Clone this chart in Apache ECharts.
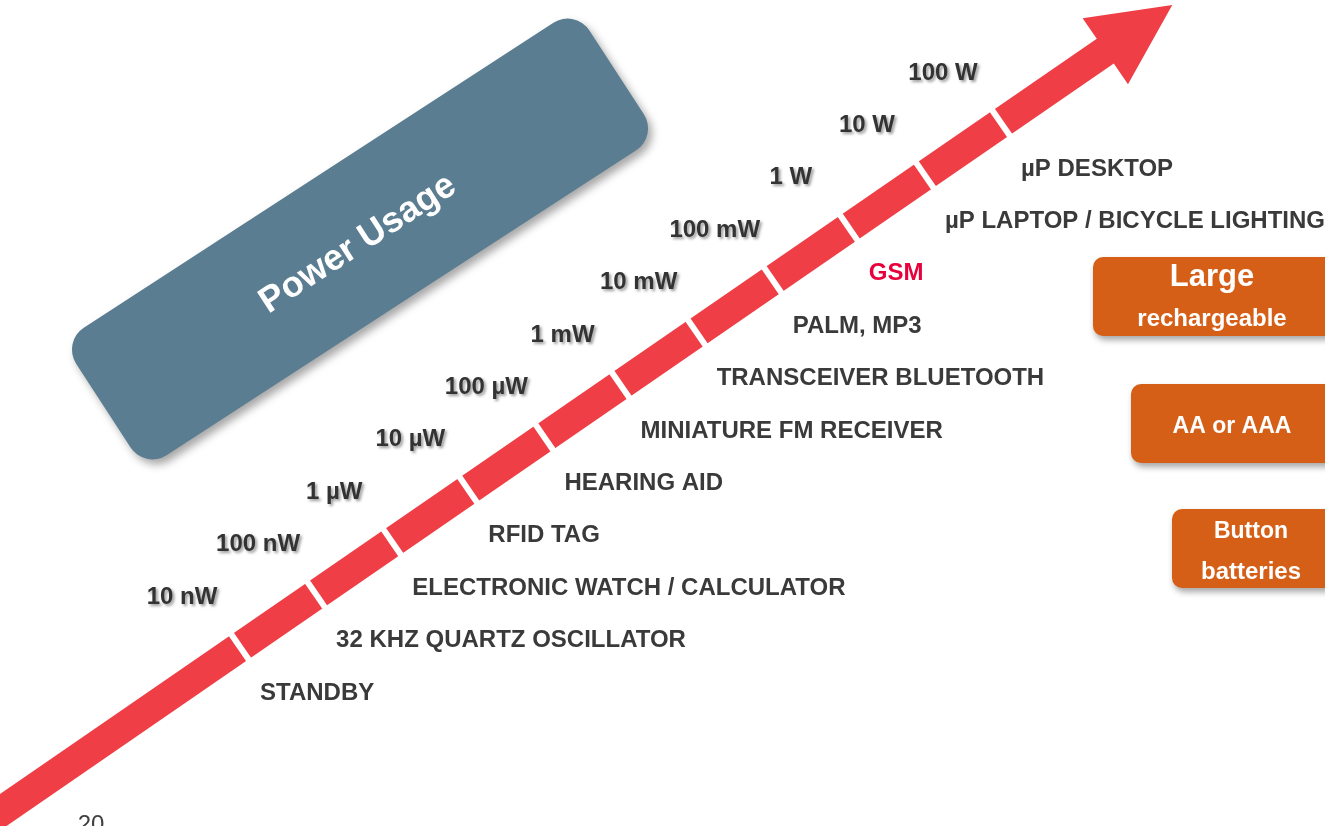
<!DOCTYPE html>
<html>
<head>
<meta charset="utf-8">
<title>Power Usage</title>
<script src="https://cdn.jsdelivr.net/npm/echarts@6/dist/echarts.min.js"></script>
<style>
  html, body { margin: 0; padding: 0; background: #fff; }
  #chart { width: 1325px; height: 826px; }
</style>
</head>
<body>
<div id="chart"></div>
<script>
// decades of power, as log10(W)
const powerExp = [-8, -7, -6, -5, -4, -3, -2, -1, 0, 1, 2];
const powerLabels = ['10 nW', '100 nW', '1 µW', '10 µW', '100 µW', '1 mW', '10 mW', '100 mW', '1 W', '10 W', '100 W'];
// one device per decade
const devices = ['STANDBY', '32 KHZ QUARTZ OSCILLATOR', 'ELECTRONIC WATCH / CALCULATOR', 'RFID TAG', 'HEARING AID',
  'MINIATURE FM RECEIVER', 'TRANSCEIVER BLUETOOTH', 'PALM, MP3', 'GSM', 'µP LAPTOP / BICYCLE LIGHTING', 'µP DESKTOP'];
const highlighted = ['GSM'];
const batteries = [['Large', 'rechargeable'], ['AA or AAA'], ['Button', 'batteries']];
// arrow from below 10 nW up past 100 W
const arrowStart = -11.6, arrowHeadBase = 3.37, arrowTip = 4.25;

const W = 1325, H = 826;
const xMin = -11.154, xMax = 6.257;
const yMin = -11.416, yMax = 4.347;
const pxX = W / (xMax - xMin), pxY = H / (yMax - yMin);
const angle = Math.atan2(pxY, pxX) * 180 / Math.PI;

const chart = echarts.init(document.getElementById('chart'));

const font = '"Liberation Sans", Arial, sans-serif';

const option = {
    animation: false,
    grid: { left: 0, right: 0, top: 0, bottom: 0, containLabel: false },
    xAxis: { type: 'value', min: xMin, max: xMax, show: false },
    yAxis: { type: 'value', min: yMin, max: yMax, show: false },
    series: [
        {
            // the big red arrow
            type: 'custom',
            z: 1,
            silent: true,
            data: [[arrowStart, arrowHeadBase, arrowTip]],
            renderItem: function (params, api) {
                const s = api.value(0), hb = api.value(1), tp = api.value(2);
                const a = api.coord([s, s]), b = api.coord([hb, hb]), t = api.coord([tp, tp]);
                const dx = t[0] - a[0], dy = t[1] - a[1];
                const len = Math.sqrt(dx * dx + dy * dy);
                const nx = -dy / len, ny = dx / len;
                const sw = 15, hw = 40;
                return {
                    type: 'polygon',
                    shape: {
                        points: [
                            [a[0] + nx * sw, a[1] + ny * sw],
                            [b[0] + nx * sw, b[1] + ny * sw],
                            [b[0] + nx * hw, b[1] + ny * hw],
                            t,
                            [b[0] - nx * hw, b[1] - ny * hw],
                            [b[0] - nx * sw, b[1] - ny * sw],
                            [a[0] - nx * sw, a[1] - ny * sw]
                        ]
                    },
                    style: { fill: '#ef3e45' }
                };
            }
        },
        {
            // white cuts on the arrow, one per decade
            type: 'scatter',
            z: 2,
            symbol: 'rect',
            symbolSize: [6, 42],
            symbolRotate: angle,
            itemStyle: { color: '#ffffff', opacity: 1 },
            data: powerExp.map(v => [v, v]),
            silent: true
        },
        {
            // power labels above the arrow
            type: 'scatter',
            z: 3,
            symbolSize: 1,
            silent: true,
            itemStyle: { color: 'transparent', opacity: 1 },
            data: powerExp.map((v, i) => ({ value: [v, v], name: powerLabels[i] })),
            label: {
                show: true,
                position: 'inside',
                formatter: '{b}',
                offset: [-58, -50],
                align: 'center',
                verticalAlign: 'middle',
                color: '#333333',
                fontFamily: font,
                fontWeight: 'bold',
                fontSize: 24,
                textShadowColor: 'rgba(0,0,0,0.4)',
                textShadowBlur: 3,
                textShadowOffsetX: 2,
                textShadowOffsetY: 2
            }
        },
        {
            // devices below the arrow
            type: 'scatter',
            z: 3,
            symbolSize: 1,
            silent: true,
            itemStyle: { color: 'transparent', opacity: 1 },
            data: powerExp.map((v, i) => ({
                value: [v, v],
                name: devices[i],
                label: { color: highlighted.indexOf(devices[i]) >= 0 ? '#e8003d' : '#3a3a3a' }
            })),
            label: {
                show: true,
                position: 'inside',
                formatter: '{b}',
                offset: [20, 46],
                align: 'left',
                verticalAlign: 'middle',
                fontFamily: font,
                fontWeight: 'bold',
                fontSize: 24
            }
        }
    ],
    graphic: [
        {
            type: 'rect',
            x: 360, y: 239,
            rotation: 33 * Math.PI / 180,
            z: 0,
            shape: { x: -306, y: -76, width: 612, height: 152, r: 26 },
            style: {
                fill: '#5a7d91',
                shadowBlur: 8, shadowOffsetX: 4, shadowOffsetY: 5,
                shadowColor: 'rgba(0,0,0,0.35)'
            }
        },
        {
            type: 'text',
            x: 358, y: 244,
            rotation: 33 * Math.PI / 180,
            z: 1,
            style: {
                text: 'Power Usage',
                fill: '#ffffff',
                font: 'bold 36px ' + font,
                align: 'center',
                verticalAlign: 'middle'
            }
        },
        // battery boxes on the right
        {
            type: 'rect', x: 1093, y: 257,
            shape: { width: 260, height: 79, r: 10 },
            style: { fill: '#d65f17', shadowBlur: 6, shadowOffsetX: 2, shadowOffsetY: 4, shadowColor: 'rgba(0,0,0,0.35)' }
        },
        {
            type: 'text', x: 1212, y: 277, z: 10,
            style: { text: batteries[0][0], fill: '#fff', font: 'bold 31px ' + font, align: 'center', verticalAlign: 'middle' }
        },
        {
            type: 'text', x: 1212, y: 319, z: 10,
            style: { text: batteries[0][1], fill: '#fff', font: 'bold 24px ' + font, align: 'center', verticalAlign: 'middle' }
        },
        {
            type: 'rect', x: 1131, y: 384,
            shape: { width: 220, height: 79, r: 10 },
            style: { fill: '#d65f17', shadowBlur: 6, shadowOffsetX: 2, shadowOffsetY: 4, shadowColor: 'rgba(0,0,0,0.35)' }
        },
        {
            type: 'text', x: 1232, y: 427, z: 10,
            style: { text: batteries[1][0], fill: '#fff', font: 'bold 23px ' + font, align: 'center', verticalAlign: 'middle' }
        },
        {
            type: 'rect', x: 1172, y: 509,
            shape: { width: 180, height: 79, r: 10 },
            style: { fill: '#d65f17', shadowBlur: 6, shadowOffsetX: 2, shadowOffsetY: 4, shadowColor: 'rgba(0,0,0,0.35)' }
        },
        {
            type: 'text', x: 1251, y: 532, z: 10,
            style: { text: batteries[2][0], fill: '#fff', font: 'bold 23px ' + font, align: 'center', verticalAlign: 'middle' }
        },
        {
            type: 'text', x: 1251, y: 572, z: 10,
            style: { text: batteries[2][1], fill: '#fff', font: 'bold 24px ' + font, align: 'center', verticalAlign: 'middle' }
        },
        {
            // page number, cut by the bottom edge
            type: 'text', x: 91, y: 813,
            style: { text: '20', fill: '#404040', font: '24px ' + font, align: 'center', verticalAlign: 'top' }
        }
    ]
};

chart.setOption(option);
window.addEventListener('resize', function () {
    chart.resize();
});
</script>
</body>
</html>
